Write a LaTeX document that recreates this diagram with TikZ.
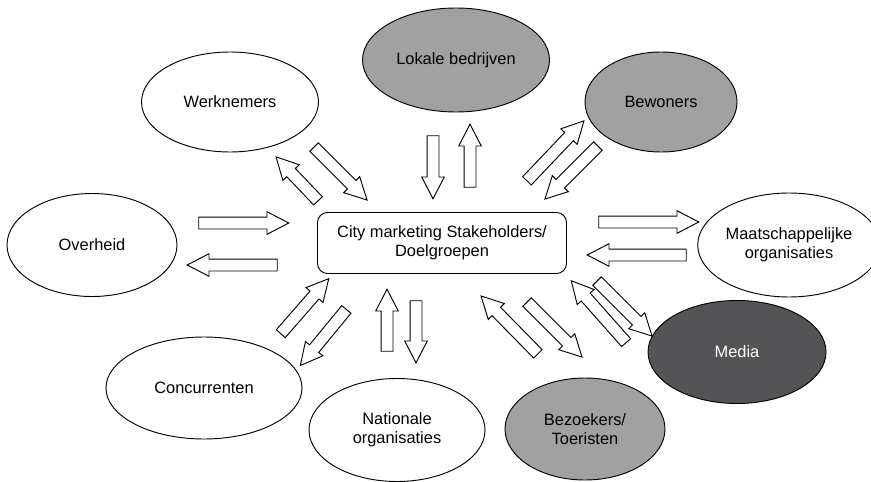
\documentclass[tikz,border=0pt]{standalone}
\usepackage{fontspec}
\setmainfont{Liberation Sans}
\usepackage{tikz}
\usetikzlibrary{calc,shapes.geometric,shapes.arrows}
\tikzset{
  group/.style = {ellipse, draw=black, line width=0.8pt, align=center, inner sep=1pt,
  font=\fontsize{14}{16.5}\selectfont},
  grp_w/.style = {group, fill=white},
  grp_g/.style = {group, fill=my_gray},
  grp_d/.style = {group, fill=my_dark, text=white},
  flow/.style = {single arrow, draw=black, fill=white, line width=0.8pt,
  inner xsep=0pt, inner ysep=0.165cm, single arrow head extend=0.16cm,
  single arrow tip angle=55}
}
\definecolor{my_gray}{RGB}{161, 161, 162}
\definecolor{my_dark}{RGB}{84, 84, 86}

\begin{document}
\begin{tikzpicture}[x=0.03cm,y=-0.03cm]
  \useasboundingbox (0,0) rectangle (871,482);
  % centre
  \node [draw, line width=0.8pt, rounded corners=0.3cm, minimum width=7.47cm, minimum height=1.83cm,
    align=center, font=\fontsize{14}{16.5}\selectfont] (city) at (442,243)
    {City marketing Stakeholders/\\Doelgroepen};
  % stakeholders
  \node [grp_w, minimum width=5.31cm, minimum height=3.0cm] (werknemers) at (230,102) {Werknemers};
  \node [grp_g, minimum width=5.61cm, minimum height=3.12cm] (lokale) at (456,60) {Lokale bedrijven};
  \node [grp_g, minimum width=4.56cm, minimum height=3.0cm] (bewoners) at (661,102) {Bewoners};
  \node [grp_w, minimum width=5.1cm, minimum height=3.09cm] (overheid) at (92,245) {Overheid};
  \node [grp_w, minimum width=4.62cm, minimum height=3.12cm] (maatsch) at (789,245) {Maatschappelijke\\organisaties};
  \node [grp_w, minimum width=5.88cm, minimum height=3.06cm] (concurrenten) at (204,388) {Concurrenten};
  \node [grp_w, minimum width=5.28cm, minimum height=3.09cm] (nationale) at (397,430) {Nationale\\organisaties};
  \node [grp_g, minimum width=4.8cm, minimum height=3.06cm] (bezoekers) at (585,429) {Bezoekers/\\Toeristen};
  \node [grp_d, minimum width=5.34cm, minimum height=3.09cm] (media) at (737,352) {Media};
  % block arrows, tail -> tip
  \foreach \nm/\a/\b in {wk_in/{310,143}/{363,196}, wk_out/{322,205}/{280,161},
      lb_in/{433,130}/{433,193}, lb_out/{470,193}/{470,130},
      bw_out/{523,185}/{580,125}, bw_in/{602,142}/{549,195},
      oh_in/{193,223}/{283,223}, oh_out/{283,265}/{193,265},
      mo_out/{593,222}/{693,222}, mo_in/{692,255}/{593,255},
      md_out/{593,277}/{648,332}, md_in/{630,347}/{575,285},
      bz_out/{523,298}/{578,353}, bz_in/{542,358}/{485,300},
      no_in/{387,357}/{387,295}, no_out/{416,295}/{416,357},
      cc_in/{277,338}/{325,283}, cc_out/{350,305}/{304,361}}
    \path let \p1=($(\b)-(\a)$), \n1={atan2(\y1,\x1)}, \n2={veclen(\x1,\y1)} in
      node [flow, minimum height=\n2, rotate=\n1] (\nm) at ($(\a)!0.5!(\b)$) {};
\end{tikzpicture}
\end{document}
